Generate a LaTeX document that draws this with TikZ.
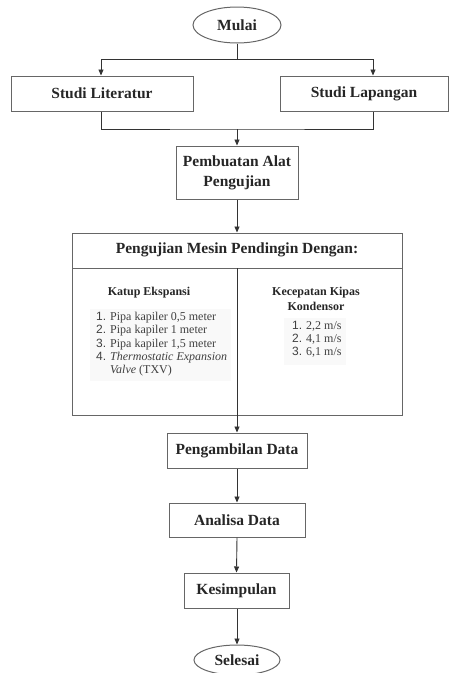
\documentclass[tikz,border=0pt]{standalone}
\usepackage{fontspec}
\setmainfont{Liberation Serif}
\newfontfamily\numfont{Liberation Sans}
\usetikzlibrary{arrows.meta,shapes.geometric}
\begin{document}
\begin{tikzpicture}[x=1pt,y=-1pt,
  line/.style={draw=black!80, line width=0.9pt},
  arr/.style={line, -{Triangle[length=6pt,width=5pt]}},
  box/.style={rectangle, draw=black!60, line width=1pt, inner sep=0pt, align=center,
    font=\fontsize{15.5}{20}\selectfont\bfseries, text=black!85},
  term/.style={ellipse, draw=black!60, line width=1pt, inner sep=0pt,
    font=\fontsize{15.5}{20}\selectfont\bfseries, text=black!85},
  lbl/.style={inner sep=0pt, align=center, font=\fontsize{12}{15}\selectfont\bfseries, text=black!85},
  lst/.style={inner sep=0pt, anchor=west, font=\fontsize{12}{13.2}\selectfont, text=black!75},
]
\useasboundingbox (0,0) rectangle (451,673);

% nodes
\node[term, minimum width=88pt, minimum height=36pt] (mulai) at (237,25) {Mulai};
\node[box, minimum width=182pt, minimum height=35pt] (lit) at (102,93.5) {Studi Literatur};
\node[box, minimum width=168pt, minimum height=35pt] (lap) at (364,93.5) {Studi Lapangan};
\node[box, minimum width=122pt, minimum height=53pt] (pem) at (237,172.5) {Pembuatan Alat\\Pengujian};
\node[box, minimum width=330pt, minimum height=182pt] (uji) at (237,324) {};
\node[box, minimum width=140pt, minimum height=35pt] (ambil) at (237,450.5) {Pengambilan Data};
\node[box, minimum width=136pt, minimum height=34pt] (ana) at (237,520) {Analisa Data};
\node[box, minimum width=105pt, minimum height=35pt] (kes) at (236.5,590.5) {Kesimpulan};
\node[term, minimum width=86pt, minimum height=30pt] (sel) at (237,660) {Selesai};

% inside the test box
\coordinate (hl) at (72,268);
\coordinate (hr) at (402,268);
\coordinate (div) at (237,268);
\draw[draw=black!60, line width=1pt] (hl) -- (hr);
\node[inner sep=0pt, font=\fontsize{15.5}{20}\selectfont\bfseries, text=black!85] (head) at (237,250) {Pengujian Mesin Pendingin Dengan:};

\fill[gray!5] (90,309) rectangle (231,381);
\fill[gray!5] (284,318) rectangle (346,365);

\node[lbl] (katup) at (149,293) {Katup Ekspansi};
\node[lbl] (kipas) at (316,299) {Kecepatan Kipas\\Kondensor};

\node[lst] (listA) at (96,344.5) {%
  \begin{tabular}{@{}r@{\hspace{4pt}}l@{}}
  {\numfont 1.} & Pipa kapiler 0,5 meter\\
  {\numfont 2.} & Pipa kapiler 1 meter\\
  {\numfont 3.} & Pipa kapiler 1,5 meter\\
  {\numfont 4.} & \textit{Thermostatic Expansion}\\
   & \textit{Valve} (TXV)
  \end{tabular}};
\node[lst] (listB) at (292,340) {%
  \begin{tabular}{@{}r@{\hspace{4pt}}l@{}}
  {\numfont 1.} & 2,2 m/s\\
  {\numfont 2.} & 4,1 m/s\\
  {\numfont 3.} & 6,1 m/s
  \end{tabular}};

% connectors
\coordinate (split) at (237,59);
\coordinate (join) at (237,129);
\draw[line] (mulai.south) -- (split);
\draw[arr] (split) -| ([xshift=-1pt]lit.north);
\draw[arr] (split) -| ([xshift=9pt]lap.north);
\draw[line] ([xshift=-1pt]lit.south) |- (join) -| ([xshift=9pt]lap.south);
\draw[arr] (join) -- (pem.north);
\draw[arr] (pem.south) -- (uji.north);
\draw[arr] (div) -- (ambil.north);
\draw[arr] (ambil.south) -- (ana.north);
\draw[arr] (ana.south) -- (kes.north);
\draw[arr] ([xshift=0.5pt]kes.south) -- (sel.north);
\end{tikzpicture}
\end{document}
